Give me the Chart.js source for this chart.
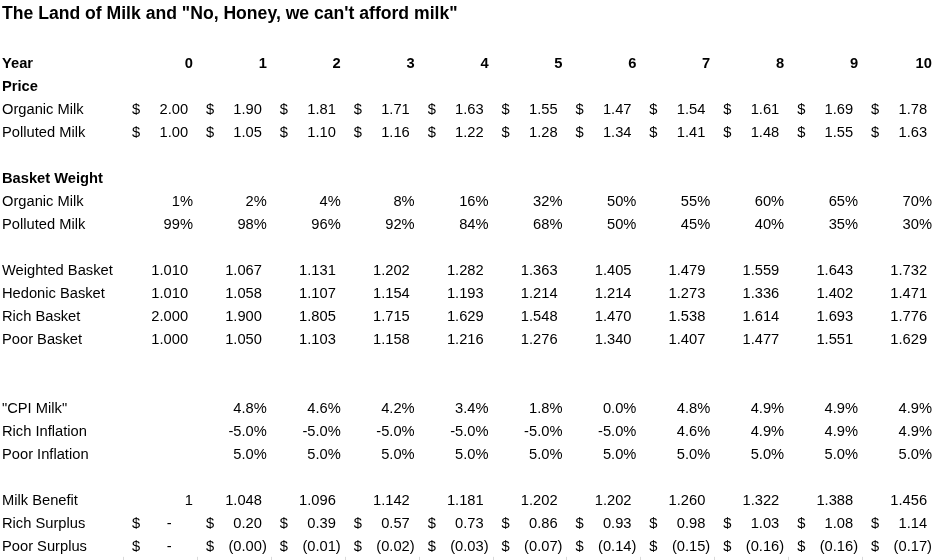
<!DOCTYPE html>
<html>
<head>
<meta charset="utf-8">
<script src="https://cdn.jsdelivr.net/npm/chart.js@4.4.1/dist/chart.umd.min.js"></script>
<style>
  html, body { margin: 0; padding: 0; background: #ffffff; }
  #wrap { width: 935px; height: 560px; }
</style>
</head>
<body>
<div id="wrap"><canvas id="c" width="935" height="560"></canvas></div>
<script>
// ---------------- DATA ----------------
const title = 'The Land of Milk and "No, Honey, we can\'t afford milk"';
const years = [0, 1, 2, 3, 4, 5, 6, 7, 8, 9, 10];
const organicPrice  = [2.00, 1.90, 1.81, 1.71, 1.63, 1.55, 1.47, 1.54, 1.61, 1.69, 1.78];
const pollutedPrice = [1.00, 1.05, 1.10, 1.16, 1.22, 1.28, 1.34, 1.41, 1.48, 1.55, 1.63];
const organicWeight  = [1, 2, 4, 8, 16, 32, 50, 55, 60, 65, 70];
const pollutedWeight = [99, 98, 96, 92, 84, 68, 50, 45, 40, 35, 30];
const weightedBasket = [1.010, 1.067, 1.131, 1.202, 1.282, 1.363, 1.405, 1.479, 1.559, 1.643, 1.732];
const hedonicBasket  = [1.010, 1.058, 1.107, 1.154, 1.193, 1.214, 1.214, 1.273, 1.336, 1.402, 1.471];
const richBasket     = [2.000, 1.900, 1.805, 1.715, 1.629, 1.548, 1.470, 1.538, 1.614, 1.693, 1.776];
const poorBasket     = [1.000, 1.050, 1.103, 1.158, 1.216, 1.276, 1.340, 1.407, 1.477, 1.551, 1.629];
const cpiMilk        = [null, 4.8, 4.6, 4.2, 3.4, 1.8, 0.0, 4.8, 4.9, 4.9, 4.9];
const richInflation  = [null, -5.0, -5.0, -5.0, -5.0, -5.0, -5.0, 4.6, 4.9, 4.9, 4.9];
const poorInflation  = [null, 5.0, 5.0, 5.0, 5.0, 5.0, 5.0, 5.0, 5.0, 5.0, 5.0];
const milkBenefit    = [1, 1.048, 1.096, 1.142, 1.181, 1.202, 1.202, 1.260, 1.322, 1.388, 1.456];
const richSurplus    = [0, 0.20, 0.39, 0.57, 0.73, 0.86, 0.93, 0.98, 1.03, 1.08, 1.14];
const poorSurplus    = [0, -0.004, -0.01, -0.02, -0.03, -0.07, -0.14, -0.15, -0.16, -0.16, -0.17];

// row index, label, values, format
const rows = [
  { row: 0,  label: 'Year', bold: true, values: years, fmt: 'general' },
  { row: 1,  label: 'Price', bold: true, values: null },
  { row: 2,  label: 'Organic Milk', values: organicPrice, fmt: 'acct' },
  { row: 3,  label: 'Polluted Milk', values: pollutedPrice, fmt: 'acct' },
  { row: 5,  label: 'Basket Weight', bold: true, values: null },
  { row: 6,  label: 'Organic Milk', values: organicWeight, fmt: 'pct0' },
  { row: 7,  label: 'Polluted Milk', values: pollutedWeight, fmt: 'pct0' },
  { row: 9,  label: 'Weighted Basket', values: weightedBasket, fmt: 'num3' },
  { row: 10, label: 'Hedonic Basket', values: hedonicBasket, fmt: 'num3' },
  { row: 11, label: 'Rich Basket', values: richBasket, fmt: 'num3' },
  { row: 12, label: 'Poor Basket', values: poorBasket, fmt: 'num3' },
  { row: 15, label: '"CPI Milk"', values: cpiMilk, fmt: 'pct1' },
  { row: 16, label: 'Rich Inflation', values: richInflation, fmt: 'pct1' },
  { row: 17, label: 'Poor Inflation', values: poorInflation, fmt: 'pct1' },
  { row: 19, label: 'Milk Benefit', values: milkBenefit, fmt: 'num3', firstGeneral: true },
  { row: 20, label: 'Rich Surplus', values: richSurplus, fmt: 'acct' },
  { row: 21, label: 'Poor Surplus', values: poorSurplus, fmt: 'acct' }
];
const titleRow = -2.13;

// ---------------- STYLE ----------------
const FONT = '"Liberation Sans", Arial, sans-serif';
const BODY_PX = 14.7;
const TITLE_PX = 17.6;

const datasets = rows.map(r => ({
  label: r.label,
  meta: r,
  data: (r.values || []).map((v, i) => ({ x: years[i], y: r.row, v: v })),
  pointRadius: 0,
  pointHoverRadius: 0,
  showLine: false
}));

const tablePlugin = {
  id: 'tableText',
  afterDatasetsDraw(chart) {
    const ctx = chart.ctx;
    const xs = chart.scales.x, ys = chart.scales.y;
    const colW = xs.getPixelForValue(1) - xs.getPixelForValue(0);
    const left = chart.chartArea.left + 2;
    ctx.save();
    ctx.fillStyle = '#000000';
    ctx.textBaseline = 'middle';

    // title
    ctx.font = 'bold ' + TITLE_PX + 'px ' + FONT;
    ctx.textAlign = 'left';
    ctx.fillText(title, left, ys.getPixelForValue(titleRow));

    const bodyFont = BODY_PX + 'px ' + FONT;
    const boldFont = 'bold ' + BODY_PX + 'px ' + FONT;

    chart.data.datasets.forEach((ds, di) => {
      const r = ds.meta;
      const y = ys.getPixelForValue(r.row);
      ctx.font = r.bold ? boldFont : bodyFont;
      ctx.textAlign = 'left';
      ctx.fillText(r.label, left, y);
      const metaEls = chart.getDatasetMeta(di).data;
      const parenW = ctx.measureText(')').width;
      const digitW = ctx.measureText('0').width;
      ds.data.forEach((pt, i) => {
        const v = pt.v;
        if (v === null || v === undefined) return;
        const el = metaEls[i];
        const cx = el.x, cy = el.y;
        const right = cx + colW / 2 - 4;
        const cellLeft = cx - colW / 2 + 9;
        let fmt = r.fmt;
        if (r.firstGeneral && i === 0) fmt = 'general';
        ctx.textAlign = 'right';
        if (fmt === 'general') {
          ctx.fillText(String(v), right, cy);
        } else if (fmt === 'pct0') {
          ctx.fillText(v.toFixed(0) + '%', right, cy);
        } else if (fmt === 'pct1') {
          ctx.fillText(v.toFixed(1) + '%', right, cy);
        } else if (fmt === 'num3') {
          ctx.fillText(v.toFixed(3), right - parenW, cy);
        } else if (fmt === 'acct') {
          ctx.textAlign = 'left';
          ctx.fillText('$', cellLeft, cy);
          ctx.textAlign = 'right';
          if (v === 0) {
            ctx.fillText('-', right - parenW - 2 * digitW, cy);
          } else if (v < 0) {
            ctx.fillText('(' + Math.abs(v).toFixed(2) + ')', right, cy);
          } else {
            ctx.fillText(v.toFixed(2), right - parenW, cy);
          }
        }
      });
    });

    // faint gridline stubs at the bottom edge (next row's cell borders)
    ctx.strokeStyle = '#d9d9d9';
    ctx.lineWidth = 1;
    const yTop = ys.getPixelForValue(21.45);
    const yBot = chart.chartArea.bottom;
    for (let k = 0; k <= years.length; k++) {
      const bx = Math.round(xs.getPixelForValue(k - 0.5)) + 0.5;
      ctx.beginPath();
      ctx.moveTo(bx, yTop);
      ctx.lineTo(bx, yBot);
      ctx.stroke();
    }
    ctx.restore();
  }
};

new Chart(document.getElementById('c'), {
  type: 'scatter',
  data: { datasets: datasets },
  options: {
    responsive: false,
    animation: false,
    events: [],
    layout: { padding: 0 },
    plugins: { legend: { display: false }, tooltip: { enabled: false }, title: { display: false } },
    scales: {
      x: { type: 'linear', display: false, min: -2.165, max: 10.487 },
      y: { type: 'linear', display: false, reverse: true, min: -2.761, max: 21.587 }
    }
  },
  plugins: [tablePlugin]
});
</script>
</body>
</html>
